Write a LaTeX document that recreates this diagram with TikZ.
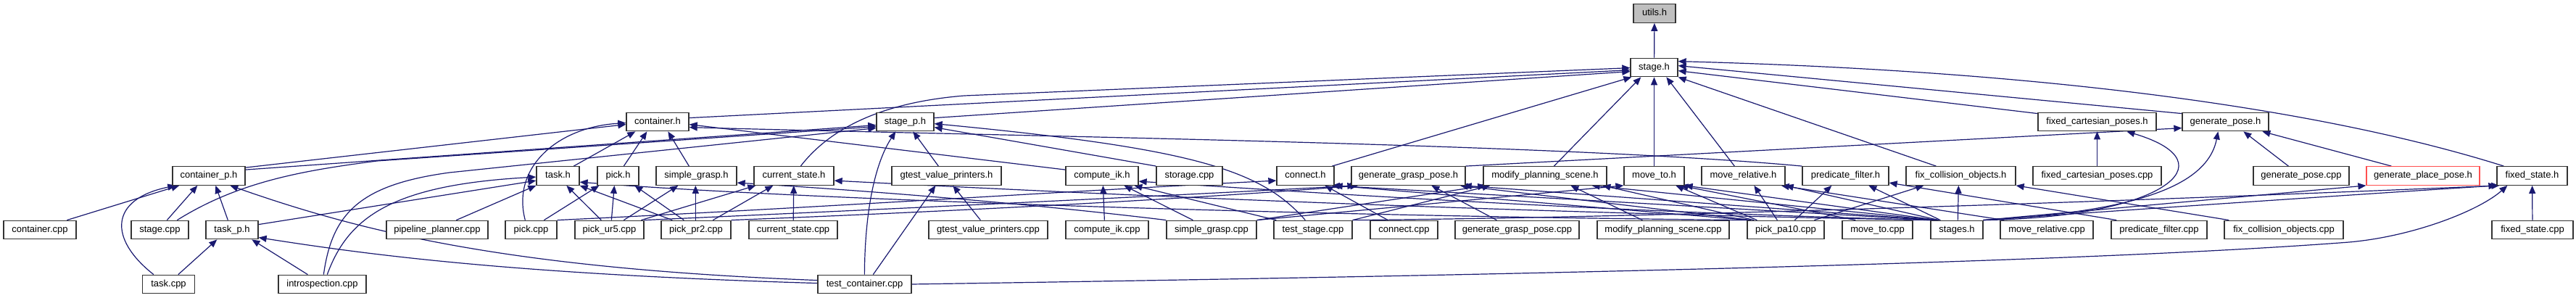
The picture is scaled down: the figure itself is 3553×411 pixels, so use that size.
\documentclass[tikz,border=0pt]{standalone}
\usepackage{fontspec}
\setmainfont{Liberation Sans}
\usetikzlibrary{arrows.meta,calc}
\pgfdeclarelayer{bg}
\pgfsetlayers{bg,main}
\definecolor{edgec}{HTML}{191970}
\definecolor{bordc}{HTML}{333333}
\definecolor{redb}{HTML}{FF5050}
\definecolor{grayf}{HTML}{BFBFBF}
\begin{document}
\begin{tikzpicture}[x=1pt,y=-1pt,
  nbox/.style={draw=bordc, line width=1.3pt, fill=white, minimum height=25.5pt, inner sep=0pt,
    font=\fontsize{13}{15}\selectfont, text height=9.5pt, text depth=2.7pt},
  edg/.style={draw=edgec, line width=1.2pt, -{Triangle[length=11pt,width=9pt]}},
]
\useasboundingbox (0,0) rectangle (3553,411);
% row 0-2
\node[nbox, fill=grayf, minimum width=58] (utils) at (2282,18.5) {utils.h};
\node[nbox, minimum width=65] (stageh) at (2281.5,93) {stage.h};
\node[nbox, minimum width=86] (containerh) at (907,168) {container.h};
\node[nbox, minimum width=79] (stagep) at (1248.5,168) {stage\_p.h};
\node[nbox, minimum width=163] (fcph) at (2892.5,168) {fixed\_cartesian\_poses.h};
\node[nbox, minimum width=119] (genposeh) at (3069.5,168) {generate\_pose.h};
% row 3
\node[nbox, minimum width=100] (containerp) at (288,242.5) {container\_p.h};
\node[nbox, minimum width=59] (taskh) at (769.5,242.5) {task.h};
\node[nbox, minimum width=57] (pickh) at (852.5,242.5) {pick.h};
\node[nbox, minimum width=111] (sgh) at (960.5,242.5) {simple\_grasp.h};
\node[nbox, minimum width=110] (csh) at (1095,242.5) {current\_state.h};
\node[nbox, minimum width=151] (gvph) at (1305.5,242.5) {gtest\_value\_printers.h};
\node[nbox, minimum width=100] (cikh) at (1520,242.5) {compute\_ik.h};
\node[nbox, minimum width=91] (storage) at (1640.5,242.5) {storage.cpp};
\node[nbox, minimum width=79] (connecth) at (1800.5,242.5) {connect.h};
\node[nbox, minimum width=157] (ggph) at (1942.5,242.5) {generate\_grasp\_pose.h};
\node[nbox, minimum width=170] (mpsh) at (2131,242.5) {modify\_planning\_scene.h};
\node[nbox, minimum width=83] (movetoh) at (2281.5,242.5) {move\_to.h};
\node[nbox, minimum width=115] (mrh) at (2404.5,242.5) {move\_relative.h};
\node[nbox, minimum width=119] (pfh) at (2545.5,242.5) {predicate\_filter.h};
\node[nbox, minimum width=151] (fcoh) at (2704.5,242.5) {fix\_collision\_objects.h};
\node[nbox, minimum width=177] (fcpcpp) at (2892.5,242.5) {fixed\_cartesian\_poses.cpp};
\node[nbox, minimum width=132] (genposecpp) at (3174,242.5) {generate\_pose.cpp};
\node[nbox, draw=redb, minimum width=156] (gplh) at (3342,242.5) {generate\_place\_pose.h};
\node[nbox, minimum width=97] (fsh) at (3492.5,242.5) {fixed\_state.h};
% row 4
\node[nbox, minimum width=100] (containercpp) at (55,317) {container.cpp};
\node[nbox, minimum width=79] (stagecpp) at (220.5,317) {stage.cpp};
\node[nbox, minimum width=72] (taskph) at (320,317) {task\_p.h};
\node[nbox, minimum width=140] (ppcpp) at (603,317) {pipeline\_planner.cpp};
\node[nbox, minimum width=71] (pickcpp) at (732.5,317) {pick.cpp};
\node[nbox, minimum width=95] (ur5) at (840.5,317) {pick\_ur5.cpp};
\node[nbox, minimum width=96] (pr2) at (960,317) {pick\_pr2.cpp};
\node[nbox, minimum width=122] (cscpp) at (1094,317) {current\_state.cpp};
\node[nbox, minimum width=164] (gvpcpp) at (1363,317) {gtest\_value\_printers.cpp};
\node[nbox, minimum width=114] (cikcpp) at (1527,317) {compute\_ik.cpp};
\node[nbox, minimum width=124] (sgcpp) at (1671,317) {simple\_grasp.cpp};
\node[nbox, minimum width=108] (tscpp) at (1811,317) {test\_stage.cpp};
\node[nbox, minimum width=93] (connectcpp) at (1936.5,317) {connect.cpp};
\node[nbox, minimum width=171] (ggpcpp) at (2092.5,317) {generate\_grasp\_pose.cpp};
\node[nbox, minimum width=182] (mpscpp) at (2294,317) {modify\_planning\_scene.cpp};
\node[nbox, minimum width=106] (pa10) at (2463,317) {pick\_pa10.cpp};
\node[nbox, minimum width=97] (movetocpp) at (2589.5,317) {move\_to.cpp};
\node[nbox, minimum width=72] (stagesh) at (2699,317) {stages.h};
\node[nbox, minimum width=128] (mrcpp) at (2823,317) {move\_relative.cpp};
\node[nbox, minimum width=132] (pfcpp) at (2978,317) {predicate\_filter.cpp};
\node[nbox, minimum width=164] (fcocpp) at (3150,317) {fix\_collision\_objects.cpp};
\node[nbox, minimum width=112] (fscpp) at (3493,317) {fixed\_state.cpp};
% row 5
\node[nbox, minimum width=72] (taskcpp) at (232.5,392) {task.cpp};
\node[nbox, minimum width=121] (introcpp) at (444.5,392) {introspection.cpp};
\node[nbox, minimum width=129] (tccpp) at (1192.5,392) {test\_container.cpp};

\begin{pgfonlayer}{bg}
\fill[white] (0,0) rectangle (3553,411);
\draw[edg] (stageh) -- (utils);
% into stage.h
\draw[edg] ([yshift=-8]containerh.north east) -- ([yshift=-17]stageh.north west);
\draw[edg] ([yshift=-8]stagep.north east) -- ([yshift=-19]stageh.north west);
\draw[edg] ([xshift=65]csh.north west) .. controls (1150,170) and (1230,140) .. (1330,132) -- ([yshift=-14]stageh.north west);
\draw[edg] ([xshift=77]connecth.north west) -- ([xshift=2]stageh.south west);
\draw[edg] ([xshift=98]mpsh.north west) -- ([xshift=15]stageh.south west);
\draw[edg] (movetoh) -- (stageh);
\draw[edg] ([xshift=46]mrh.north west) -- ([xshift=50]stageh.south west);
\draw[edg] ([xshift=42]fcoh.north west) -- (stageh.south east);
\draw[edg] ([yshift=-2]fcph.north west) -- ([yshift=-18]stageh.north east);
\draw[edg] ([yshift=-2]genposeh.north west) -- ([yshift=-11]stageh.north east);
\draw[edg] ([xshift=10]fsh.north west) .. controls (3250,165) and (2900,100) .. ([yshift=-5]stageh.north east);
% into container.h
\draw[edg] ([yshift=-2]containerp.north east) -- ([yshift=-17]containerh.north west);
\draw[edg] ([xshift=28]pickcpp.north west) .. controls (705,230) and (770,175) .. ([yshift=-15]containerh.north west);
\draw[edg] ([xshift=52]taskh.north west) -- ([xshift=13]containerh.south west);
\draw[edg] ([xshift=37]pickh.north west) -- ([xshift=29]containerh.south west);
\draw[edg] ([xshift=46]sgh.north west) -- ([xshift=58]containerh.south west);
\draw[edg] ([yshift=-5]cikh.north west) -- ([yshift=-17]containerh.north east);
\draw[edg] (pfh.north west) .. controls (2150,198) and (1400,188) .. ([yshift=-21]containerh.north east);
% into stage_p.h
\draw[edg] ([yshift=-5]containerp.north east) -- ([yshift=-18]stagep.north west);
\draw[edg] ([xshift=64]stagecpp.north west) .. controls (330,250) and (420,235) .. (520,222) -- ([yshift=-20]stagep.north west);
\draw[edg] ([xshift=63]introcpp.north west) .. controls (458,295) and (495,255) .. (620,238) -- ([yshift=-22]stagep.north west);
\draw[edg] ([xshift=65]tccpp.north west) .. controls (1193,280) and (1210,220) .. ([xshift=27]stagep.south west);
\draw[edg] ([xshift=65]gvph.north west) -- ([xshift=51]stagep.south west);
\draw[edg] (storage.north west) -- ([yshift=-21]stagep.north east);
\draw[edg] ([xshift=44]tscpp.north west) .. controls (1740,235) and (1650,205) .. ([yshift=-16]stagep.north east);
% into fixed_cartesian_poses.h / generate_pose.h
\draw[edg] (fcpcpp) -- (fcph);
\draw[edg] (stagesh.north east) .. controls (2980,300) and (3080,225) .. ([xshift=123]fcph.south west);
\draw[edg] (ggph.north east) -- ([yshift=-22]genposeh.north west);
\draw[edg] (stagesh.north east) .. controls (2950,292) and (3045,255) .. ([xshift=50]genposeh.south west);
\draw[edg] ([xshift=49]genposecpp.north west) -- ([xshift=85]genposeh.south west);
\draw[edg] ([xshift=35]gplh.north west) -- ([xshift=111]genposeh.south west);
% into container_p.h
\draw[edg] ([xshift=88]containercpp.north west) -- ([xshift=10]containerp.south west);
\draw[edg] ([xshift=50]stagecpp.north west) -- ([xshift=35]containerp.south west);
\draw[edg] ([xshift=31]taskph.north west) -- ([xshift=60]containerp.south west);
\draw[edg] ([xshift=16]taskcpp.north west) .. controls (150,330) and (150,275) .. ([xshift=5]containerp.south west);
\draw[edg] ([yshift=-8]tccpp.north west) .. controls (700,370) and (500,320) .. ([xshift=80]containerp.south west);
% into task_p.h
\draw[edg] ([xshift=50]taskcpp.north west) -- ([xshift=16]taskph.south west);
\draw[edg] ([xshift=41]introcpp.north west) -- ([xshift=64]taskph.south west);
\draw[edg] ([yshift=-12]tccpp.north west) .. controls (700,378) and (500,350) .. ([yshift=-24]taskph.north east);
% into task.h
\draw[edg] ([yshift=-6]taskph.north east) -- ([yshift=-20]taskh.north west);
\draw[edg] ([xshift=68]introcpp.north west) .. controls (480,300) and (540,255) .. ([yshift=-15]taskh.north west);
\draw[edg] ([xshift=97]ppcpp.north west) -- (taskh.south west);
\draw[edg] ([xshift=37]ur5.north west) -- ([xshift=42]taskh.south west);
\draw[edg] ([xshift=16]pr2.north west) -- (taskh.south east);
\draw[edg] (pa10.north west) .. controls (1800,298) and (1100,275) .. ([yshift=-22]taskh.north east);
% into pick.h
\draw[edg] ([xshift=54]pickcpp.north west) -- ([xshift=3]pickh.south west);
\draw[edg] ([xshift=51]ur5.north west) -- ([xshift=24]pickh.south west);
\draw[edg] ([xshift=32]pr2.north west) -- ([xshift=52]pickh.south west);
% into simple_grasp.h
\draw[edg] ([xshift=68]ur5.north west) -- ([xshift=31]sgh.south west);
\draw[edg] ([xshift=48]pr2.north west) -- ([xshift=55]sgh.south west);
\draw[edg] (sgcpp.north west) .. controls (1400,278) and (1150,260) .. ([yshift=-23]sgh.north east);
% into current_state.h
\draw[edg] ([xshift=92]ur5.north west) -- ([xshift=3]csh.south west);
\draw[edg] ([xshift=72]pr2.north west) -- ([xshift=27]csh.south west);
\draw[edg] (cscpp) -- (csh);
\draw[edg] ([xshift=2]stagesh.north west) .. controls (2000,292) and (1400,262) .. ([yshift=-20]csh.north east);
% into gtest_value_printers.h
\draw[edg] ([xshift=72]gvpcpp.north west) -- ([xshift=85]gvph.south west);
\draw[edg] ([xshift=77]tccpp.north west) -- ([xshift=61]gvph.south west);
% into compute_ik.h
\draw[edg] ([xshift=54]cikcpp.north west) -- ([xshift=52]cikh.south west);
\draw[edg] ([xshift=37]sgcpp.north west) -- ([xshift=81]cikh.south west);
\draw[edg] ([xshift=4]tscpp.north west) -- ([xshift=95]cikh.south west);
\draw[edg] ([xshift=3]stagesh.north west) .. controls (2200,292) and (1800,265) .. ([yshift=-21]cikh.north east);
% into connect.h
\draw[edg] ([xshift=25]connectcpp.north west) -- ([xshift=67]connecth.south west);
\draw[edg] (pickcpp.north east) .. controls (1100,288) and (1500,262) .. ([yshift=-20]connecth.north west);
\draw[edg] ([xshift=5]stagesh.north west) -- ([xshift=-4]connecth.south east);
\draw[edg] ([xshift=3]pa10.north west) -- (connecth.south east);
% into generate_grasp_pose.h
\draw[edg] ([xshift=58]ggpcpp.north west) -- ([xshift=111]ggph.south west);
\draw[edg] ([xshift=6]stagesh.north west) -- ([xshift=-3]ggph.south east);
\draw[edg] (ur5.north east) .. controls (1300,285) and (1650,268) .. ([xshift=6]ggph.south west);
\draw[edg] (pr2.north east) .. controls (1400,288) and (1700,270) .. ([xshift=10]ggph.south west);
\draw[edg] ([xshift=6]pa10.north west) -- ([xshift=-8]ggph.south east);
% into modify_planning_scene.h
\draw[edg] ([xshift=63]mpscpp.north west) -- ([xshift=121]mpsh.south west);
\draw[edg] (sgcpp.north east) -- ([xshift=4]mpsh.south west);
\draw[edg] (tscpp.north east) -- ([xshift=10]mpsh.south west);
\draw[edg] ([xshift=8]stagesh.north west) -- ([xshift=150]mpsh.south west);
\draw[edg] ([xshift=10]pa10.north west) -- ([xshift=165]mpsh.south west);
% into move_to.h
\draw[edg] ([xshift=19]movetocpp.north west) -- ([xshift=78]movetoh.south west);
\draw[edg] ([xshift=14]pa10.north west) -- ([xshift=72]movetoh.south west);
\draw[edg] ([xshift=10]stagesh.north west) -- (movetoh.south east);
\draw[edg] (sgcpp.north east) -- (movetoh.south west);
% into move_relative.h
\draw[edg] ([xshift=42]pa10.north west) -- ([xshift=73]mrh.south west);
\draw[edg] ([xshift=6]mrcpp.north west) -- ([xshift=-6]mrh.south east);
\draw[edg] ([xshift=12]stagesh.north west) -- (mrh.south east);
% into predicate_filter.h
\draw[edg] ([xshift=66]pa10.north west) -- ([xshift=41]pfh.south west);
\draw[edg] ([xshift=14]stagesh.north west) -- ([xshift=92]pfh.south west);
\draw[edg] ([xshift=8]pfcpp.north west) -- ([yshift=-23]pfh.north east);
% into fix_collision_objects.h
\draw[edg] ([xshift=93]pa10.north west) -- ([xshift=25]fcoh.south west);
\draw[edg] ([xshift=38]stagesh.north west) -- ([xshift=73]fcoh.south west);
\draw[edg] ([xshift=7]fcocpp.north west) -- (fcoh.south east);
% into generate_place_pose.h
\draw[edg] (stagesh.north east) -- (gplh.south west);
% into fixed_state.h
\draw[edg] (fscpp) -- (fsh);
\draw[edg] (stagesh.north east) .. controls (3000,285) and (3300,265) .. (fsh.south west);
\draw[edg] (tscpp.north east) .. controls (2300,300) and (3000,275) .. ([xshift=4]fsh.south west);
\draw[edg] (tccpp.east) .. controls (2200,378) and (2900,360) .. (3240,334) .. controls (3330,326) and (3420,290) .. ([xshift=15]fsh.south west);
\end{pgfonlayer}
\end{tikzpicture}
\end{document}
